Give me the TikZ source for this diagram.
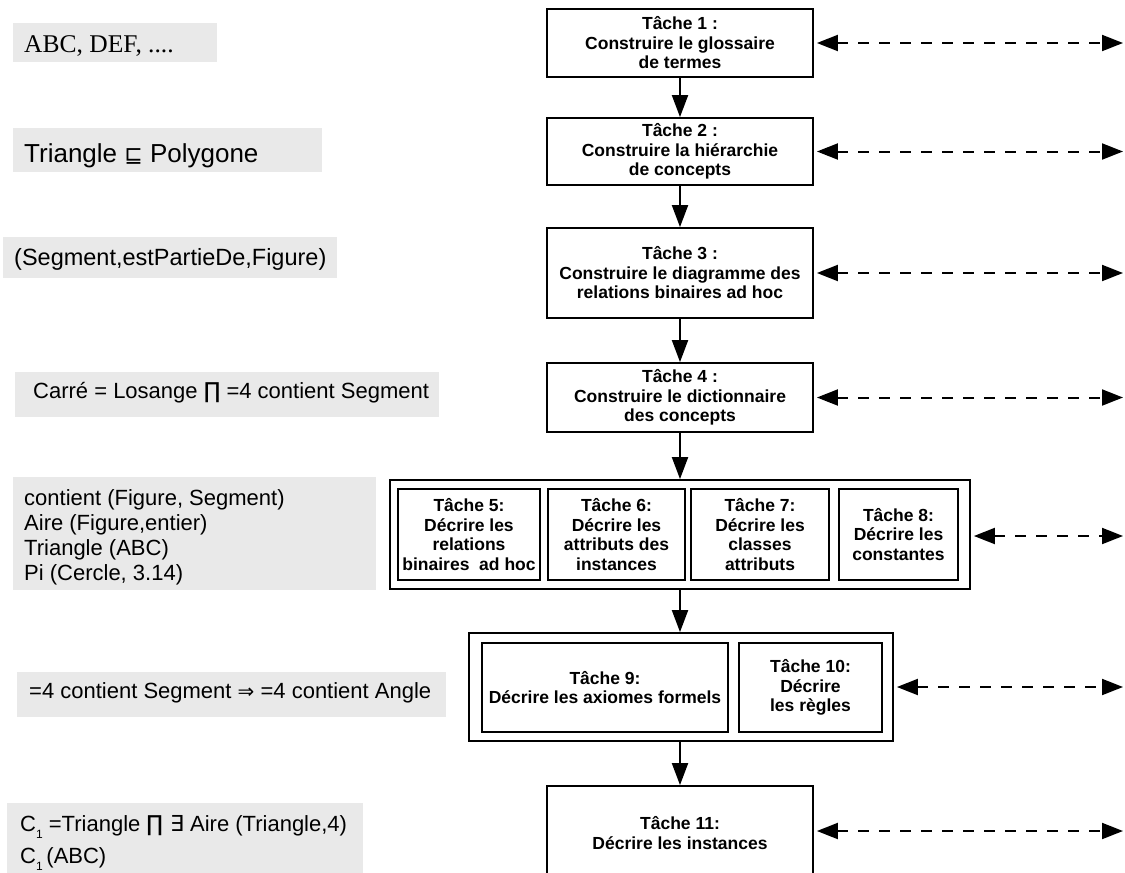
\documentclass[tikz,border=0pt]{standalone}
\usepackage{fontspec}
\setmainfont{Liberation Sans}
\newfontfamily\seriffont{Liberation Serif}
\newfontfamily\symfont{DejaVu Sans}
\usetikzlibrary{arrows.meta}
\definecolor{notegray}{RGB}{233,233,233}
\newcommand{\subone}{\raisebox{-7pt}{\fontsize{12}{12}\selectfont 1}}
\begin{document}
\begin{tikzpicture}[x=1pt,y=-1pt,
  task/.style={draw=black, line width=1.8pt, fill=white, inner sep=0pt, align=center,
    font=\fontsize{17.5}{19.5}\selectfont\bfseries},
  frame/.style={draw=black, line width=1.8pt, fill=white, inner sep=0pt},
  notebox/.style={fill=notegray},
  notetext/.style={anchor=base west, inner sep=0pt, font=\fontsize{22}{25}\selectfont},
  flow/.style={line width=2pt, -{Triangle[length=22pt,width=16pt]}},
  link/.style={line width=2pt, dash pattern=on 11pt off 10pt,
    {Triangle[length=21pt,width=16pt]}-{Triangle[length=21pt,width=16pt]}, shorten <=3pt},
]
\useasboundingbox (0,0) rectangle (1125,873);
\clip (0,0) rectangle (1125,873);
\fill[white] (0,0) rectangle (1125,873);

% ---- left example boxes ----
\fill[notebox] (12.5,23) rectangle (217,62);
\node[notetext, font=\seriffont\fontsize{25.5}{25}\selectfont] (n1) at (24,52) {ABC, DEF, ....};

\fill[notebox] (12.5,128) rectangle (322,172);
\node[notetext, font=\fontsize{26}{26}\selectfont] (n2) at (24,162) {Triangle {\symfont\fontsize{22}{22}\selectfont ⊑} Polygone};

\fill[notebox] (3,237) rectangle (337,278);
\node[notetext, font=\fontsize{23.5}{25}\selectfont] (n3) at (14,265) {(Segment,estPartieDe,Figure)};

\fill[notebox] (15,372) rectangle (439,417);
\node[notetext] (n4) at (33,398) {Carré = Losange {\symfont ∏} =4 contient Segment};

\fill[notebox] (13,477) rectangle (376,590);
\node[notetext] (n5a) at (24,505) {contient (Figure, Segment)};
\node[notetext] (n5b) at (24,530) {Aire (Figure,entier)};
\node[notetext] (n5c) at (24,555) {Triangle (ABC)};
\node[notetext] (n5d) at (24,580) {Pi (Cercle, 3.14)};

\fill[notebox] (17,672) rectangle (446,717);
\node[notetext] (n6) at (29,698) {=4 contient Segment {\symfont\fontsize{20}{20}\selectfont ⇒} =4 contient Angle};

\fill[notebox] (7,803) rectangle (363,880);
\node[notetext] (n7a) at (20,831) {C\subone\ =Triangle {\symfont ∏ ∃} Aire (Triangle,4)};
\node[notetext] (n7b) at (20,863) {C\subone\,(ABC)};

% ---- task column ----
\node[task, minimum width=266pt, minimum height=68pt] (t1) at (680,43)
  {Tâche 1 :\\Construire le glossaire\\de termes};
\node[task, minimum width=266pt, minimum height=67pt] (t2) at (680,151.5)
  {Tâche 2 :\\Construire la hiérarchie\\de concepts};
\node[task, minimum width=266pt, minimum height=90pt] (t3) at (680,273)
  {Tâche 3 :\\Construire le diagramme des\\relations binaires ad hoc};
\node[task, minimum width=266pt, minimum height=69pt] (t4) at (680,397.5)
  {Tâche 4 :\\Construire le dictionnaire\\des concepts};

\node[frame, minimum width=580pt, minimum height=109pt] (g1) at (680,534.5) {};
\node[task, minimum width=142pt, minimum height=91pt] (t5) at (469,534.5)
  {Tâche 5:\\Décrire les\\relations\\binaires~ ad hoc};
\node[task, minimum width=137pt, minimum height=91pt] (t6) at (616.5,534.5)
  {Tâche 6:\\Décrire les\\attributs des\\instances};
\node[task, minimum width=138pt, minimum height=91pt] (t7) at (760,534.5)
  {Tâche 7:\\Décrire les\\classes\\attributs};
\node[task, minimum width=119pt, minimum height=91pt] (t8) at (898.5,534.5)
  {Tâche 8:\\Décrire les\\constantes};

\node[frame, minimum width=424pt, minimum height=108pt] (g2) at (681,687) {};
\node[task, minimum width=246pt, minimum height=89pt] (t9) at (605,687.5)
  {Tâche 9:\\Décrire les axiomes formels};
\node[task, minimum width=143pt, minimum height=89pt] (t10) at (810.5,687.5)
  {Tâche 10:\\Décrire\\les règles};

\node[task, minimum width=266pt, minimum height=94pt] (t11) at (680,833)
  {Tâche 11:\\Décrire les instances};

% ---- vertical flow ----
\draw[flow] (t1) -- (t2);
\draw[flow] (t2) -- (t3);
\draw[flow] (t3) -- (t4);
\draw[flow] (t4) -- (g1);
\draw[flow] (g1.south) -- (g1.south |- g2.north);
\draw[flow] (g2.south -| t11.north) -- (t11.north);

% ---- dashed links to the right ----
\coordinate (r1) at (1123,43);
\coordinate (r2) at (1123,151.5);
\coordinate (r3) at (1123,273);
\coordinate (r4) at (1123,397.5);
\coordinate (r5) at (1123,536);
\coordinate (r6) at (1123,687);
\coordinate (r7) at (1123,831);
\draw[link] (t1.east) -- (r1);
\draw[link] (t2.east) -- (r2);
\draw[link] (t3.east) -- (r3);
\draw[link] (t4.east) -- (r4);
\draw[link] (g1.east |- r5) -- (r5);
\draw[link] (g2.east |- r6) -- (r6);
\draw[link] (t11.east |- r7) -- (r7);
\end{tikzpicture}
\end{document}
